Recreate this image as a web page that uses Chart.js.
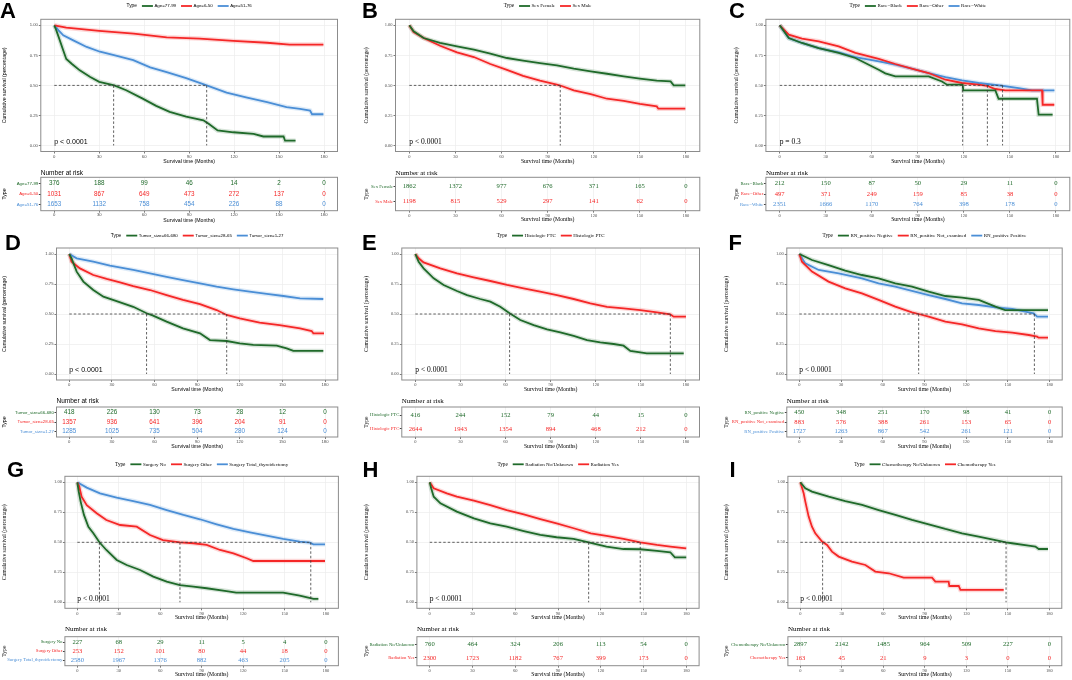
<!DOCTYPE html>
<html>
<head>
<meta charset="utf-8">
<script src="https://cdn.jsdelivr.net/npm/chart.js@4.4.1/dist/chart.umd.min.js"></script>
<style>
html, body { margin: 0; padding: 0; background: #fff; }
#fig { position: relative; width: 1072px; height: 680px; overflow: hidden; background: #fff; }
#fig canvas { position: absolute; }
.tag { position: absolute; font: bold 22px "Liberation Sans", Arial, sans-serif; line-height: 1; color: #000; }
</style>
</head>
<body>
<div id="fig"></div>
<script>
// Axis ticks
const timeTicks = [0, 30, 60, 90, 120, 150, 180];
const survTicks = [0, 0.25, 0.5, 0.75, 1];
const riskTimes = [0, 30, 60, 90, 120, 150, 180];

// A - Age
const ageNames = ['Age=77-99', 'Age=6-50', 'Age=51-76'];
const ageOld = [[0,1],[1,0.97],[3,0.90],[6,0.79],[8,0.72],[11.6,0.68],[17,0.625],[24,0.57],[30,0.53],[40,0.50],[48,0.46],[59,0.39],[68,0.33],[77,0.28],[88,0.24],[99.5,0.21],[103,0.18],[109,0.125],[119.5,0.11],[133,0.097],[139.5,0.075],[153,0.075],[154,0.04],[161,0.04]];
const ageYoung = [[0,1],[8,0.98],[30,0.953],[53,0.93],[75,0.90],[97,0.89],[119.5,0.87],[142,0.855],[157,0.84],[179.6,0.84]];
const ageMid = [[0,1],[2.7,0.96],[6,0.917],[12.7,0.875],[21.6,0.82],[30.5,0.78],[40.5,0.75],[52.7,0.71],[64,0.65],[75,0.61],[88,0.56],[101.7,0.50],[115,0.44],[128,0.40],[142,0.36],[155,0.32],[164,0.305],[170.7,0.29],[172,0.26],[179.6,0.26]];
const mediansA = [39.6, 101.7];
const riskA = [[376,188,99,46,14,2,0],[1031,867,649,473,272,137,0],[1653,1132,758,454,226,88,0]];

// B - Sex
const sexNames = ['Sex Female', 'Sex Male'];
const sexFemale = [[0,1],[2.8,0.95],[9.3,0.894],[20,0.853],[31,0.825],[42,0.797],[52.7,0.764],[63.5,0.728],[74,0.706],[85,0.686],[96,0.667],[107,0.639],[118,0.617],[128.6,0.597],[139.5,0.575],[150,0.556],[161,0.539],[170,0.533],[172,0.50],[179.6,0.50]];
const sexMale = [[0,1],[2.8,0.944],[9.3,0.894],[20,0.83],[31,0.775],[42,0.736],[52.7,0.678],[63.5,0.63],[74,0.58],[85,0.539],[96,0.506],[98.7,0.497],[107,0.458],[118,0.428],[128.6,0.389],[139.5,0.372],[150,0.347],[161,0.325],[162,0.306],[179.6,0.306]];
const mediansB = [98.2];
const riskB = [[1862,1372,977,676,371,165,0],[1198,815,529,297,141,62,0]];

// C - Race
const raceNames = ['Race=Black', 'Race=Other', 'Race=White'];
const raceBlack = [[0,1],[5.9,0.894],[14.5,0.853],[25.4,0.81],[38.4,0.77],[49.3,0.728],[58,0.672],[64.5,0.63],[68.8,0.60],[75.3,0.575],[97,0.575],[105.7,0.533],[109,0.506],[119.2,0.506],[119.6,0.458],[140.5,0.458],[142.6,0.389],[167.6,0.389],[168.7,0.256],[177.8,0.256]];
const raceOther = [[0,1],[5.9,0.922],[14.5,0.889],[25.4,0.867],[38.4,0.825],[49.3,0.77],[64.5,0.72],[75.3,0.678],[86,0.64],[97,0.603],[108,0.547],[118.8,0.52],[129.6,0.506],[135,0.497],[140.5,0.47],[147,0.458],[170.9,0.458],[171.3,0.339],[178.9,0.339]];
const raceWhite = [[0,1],[5.9,0.894],[14.5,0.853],[25.4,0.81],[38.4,0.775],[49.3,0.736],[64.5,0.70],[75.3,0.672],[86,0.64],[97,0.603],[108,0.569],[118.8,0.542],[129.6,0.52],[144.8,0.497],[155.7,0.478],[164.3,0.458],[179,0.458]];
const mediansC = [119.2, 135.3, 145.2];
const riskC = [[212,150,87,50,29,11,0],[497,371,249,159,85,38,0],[2351,1666,1170,764,398,178,0]];

// D - Tumor size
const tumorNames = ['Tumor_size=66-680', 'Tumor_size=28-65', 'Tumor_size=1-27'];
const tumorLarge = [[0,1],[1.6,0.964],[5.2,0.853],[9.9,0.77],[16.9,0.70],[24,0.644],[33.3,0.608],[45,0.56],[54.4,0.506],[59,0.486],[68.5,0.436],[80,0.38],[92,0.339],[99,0.283],[110.8,0.275],[120,0.256],[129.5,0.242],[146,0.236],[153,0.214],[157.7,0.192],[178.8,0.192]];
const tumorMid = [[0,1],[1.6,0.936],[7.5,0.88],[16.9,0.825],[26.3,0.792],[35.7,0.764],[45,0.733],[56.8,0.70],[68.5,0.658],[80,0.617],[92,0.583],[103.7,0.533],[110.8,0.492],[120,0.464],[134,0.428],[148,0.408],[162.4,0.38],[170.6,0.358],[171.8,0.339],[179.3,0.339]];
const tumorSmall = [[0,1],[5.2,0.964],[16.9,0.936],[28.6,0.903],[45,0.867],[56.8,0.839],[68.5,0.81],[80,0.783],[92,0.756],[103.7,0.728],[115.5,0.706],[127,0.686],[139,0.667],[150.7,0.65],[162.4,0.631],[178.8,0.625]];
const mediansD = [54.4, 110.8];
const riskD = [[418,226,130,73,28,12,0],[1357,936,641,396,204,91,0],[1285,1025,735,504,280,124,0]];

// E - Histologic
const histNames = ['Histologic FTC', 'Histologic PTC'];
const histFtc = [[0,1],[2.2,0.936],[5.5,0.88],[12.2,0.797],[18.8,0.742],[27.7,0.692],[34.4,0.658],[43.2,0.625],[49.9,0.603],[56.5,0.56],[62.7,0.506],[69.8,0.45],[78.7,0.408],[87.6,0.372],[96.4,0.347],[105.3,0.317],[114.2,0.283],[123,0.264],[131.9,0.25],[138.5,0.236],[143,0.192],[154,0.172],[178.5,0.172]];
const histPtc = [[0,1],[2.2,0.964],[5.5,0.93],[16.6,0.88],[27.7,0.839],[38.8,0.806],[49.9,0.775],[61,0.742],[72,0.714],[83,0.686],[94.2,0.658],[105.3,0.625],[116.4,0.589],[127.5,0.56],[138.5,0.547],[149.6,0.533],[160.7,0.514],[169.6,0.497],[171.8,0.478],[180,0.478]];
const mediansE = [62.7, 169.6];
const riskE = [[416,244,152,79,44,15,0],[2644,1943,1354,894,468,212,0]];

// F - Regional nodes
const rnNames = ['RN_positive Negtive', 'RN_positive Not_examined', 'RN_positive Positive'];
const rnNeg = [[0,1],[9.1,0.95],[21,0.908],[33,0.861],[45,0.825],[57,0.797],[69,0.756],[81,0.728],[93,0.686],[105,0.65],[117,0.636],[129,0.617],[141,0.561],[148,0.533],[178.8,0.533]];
const rnNot = [[0,1],[1.9,0.936],[9.1,0.853],[21,0.77],[33,0.714],[45,0.672],[57,0.617],[69,0.561],[81,0.514],[85.8,0.50],[93,0.478],[105,0.436],[117,0.414],[129,0.381],[141,0.358],[153,0.344],[165,0.325],[171,0.311],[172,0.303],[178.8,0.303]];
const rnPos = [[0,1],[4.3,0.922],[13.9,0.867],[28.3,0.839],[45,0.797],[57,0.756],[69,0.728],[81,0.692],[93,0.658],[105,0.625],[117,0.589],[129,0.575],[141,0.556],[153,0.542],[165,0.514],[168.5,0.506],[171,0.478],[178.8,0.478]];
const mediansF = [85.8, 169];
const riskF = [[450,348,251,170,98,41,0],[883,576,388,261,153,65,0],[1727,1263,867,542,261,121,0]];

// G - Surgery
const surgNames = ['Surgery No', 'Surgery Other', 'Surgery Total_thyroidectomy'];
const surgNo = [[0,1],[1,0.922],[2.4,0.839],[4.8,0.728],[8,0.63],[11.6,0.575],[16,0.50],[21,0.436],[28.5,0.353],[35.7,0.311],[45.4,0.269],[55,0.214],[64.7,0.172],[74.3,0.144],[84,0.131],[93.6,0.117],[108,0.094],[115,0.081],[149,0.081],[161,0.056],[171,0.028],[174.5,0.028]];
const surgOther = [[0,1],[1.4,0.964],[3.1,0.88],[6.8,0.81],[14,0.742],[21,0.686],[31,0.644],[43,0.63],[52.6,0.561],[62,0.519],[74.3,0.50],[84,0.492],[93.6,0.478],[103.3,0.436],[113,0.408],[122.6,0.367],[127.4,0.344],[179.3,0.344]];
const surgTotal = [[0,1],[6.8,0.956],[16.4,0.908],[28.5,0.872],[40.5,0.844],[52.6,0.811],[64.7,0.769],[76.8,0.728],[88.8,0.692],[100.9,0.65],[113,0.611],[125,0.583],[137,0.556],[149,0.528],[161,0.506],[168.4,0.497],[170.9,0.483],[179.3,0.483]];
const mediansG = [16, 74.3, 169];
const riskG = [[227,68,29,11,5,4,0],[253,152,101,80,44,18,0],[2580,1967,1376,882,463,205,0]];

// H - Radiation
const radNames = ['Radiation No/Unknown', 'Radiation Yes'];
const radNo = [[0,1],[1,0.95],[2.8,0.88],[7.5,0.825],[19,0.756],[31,0.70],[42.5,0.658],[54,0.63],[66,0.594],[77.6,0.561],[89,0.542],[101,0.528],[111.5,0.50],[124,0.464],[136,0.444],[147.7,0.442],[159.4,0.428],[168.8,0.417],[172,0.375],[180,0.375]];
const radYes = [[0,1],[2.8,0.95],[12,0.908],[19,0.88],[31,0.847],[42.5,0.81],[54,0.769],[66,0.733],[77.6,0.694],[89,0.658],[101,0.617],[113,0.575],[124,0.553],[136,0.528],[147.7,0.50],[159.4,0.478],[168.8,0.464],[180,0.45]];
const mediansH = [111.5, 147.7];
const riskH = [[760,464,324,206,113,54,0],[2300,1723,1182,767,399,173,0]];

// I - Chemotherapy
const chemoNames = ['Chemotherapy No/Unknown', 'Chemotherapy Yes'];
const chemoNo = [[0,1],[3.6,0.95],[8.4,0.922],[20.5,0.88],[32.5,0.844],[44.6,0.811],[56.6,0.769],[68.7,0.728],[80.7,0.686],[92.8,0.65],[104.8,0.611],[116.9,0.575],[128.9,0.547],[141,0.519],[148.7,0.50],[153,0.492],[165,0.472],[169.9,0.464],[172.3,0.444],[179,0.444]];
const chemoYes = [[0,1],[2.4,0.908],[3.6,0.839],[6,0.714],[8.4,0.63],[10.8,0.575],[15.7,0.506],[19.3,0.478],[22.9,0.422],[27.7,0.381],[37.3,0.339],[47,0.311],[54.2,0.256],[63.9,0.242],[74.7,0.206],[95.2,0.206],[97.6,0.172],[107.2,0.172],[107.7,0.136],[114.5,0.136],[115.7,0.103],[147,0.103]];
const mediansI = [16.1, 148.7];
const riskI = [[2897,2142,1485,964,509,227,0],[163,45,21,9,3,0,0]];

const pValues = ['p < 0.0001', 'p < 0.0001', 'p = 0.3', 'p < 0.0001', 'p < 0.0001', 'p < 0.0001', 'p < 0.0001', 'p < 0.0001', 'p < 0.0001'];

const panels = [
    { tag: 'A', style: 'sans',  names: ageNames,   curves: [ageOld, ageYoung, ageMid],        medians: mediansA, risk: riskA },
    { tag: 'B', style: 'serif', names: sexNames,   curves: [sexFemale, sexMale],              medians: mediansB, risk: riskB },
    { tag: 'C', style: 'serif', names: raceNames,  curves: [raceBlack, raceOther, raceWhite], medians: mediansC, risk: riskC },
    { tag: 'D', style: 'sans',  names: tumorNames, curves: [tumorLarge, tumorMid, tumorSmall], medians: mediansD, risk: riskD },
    { tag: 'E', style: 'serif', names: histNames,  curves: [histFtc, histPtc],                medians: mediansE, risk: riskE },
    { tag: 'F', style: 'serif', names: rnNames,    curves: [rnNeg, rnNot, rnPos],             medians: mediansF, risk: riskF },
    { tag: 'G', style: 'serif', names: surgNames,  curves: [surgNo, surgOther, surgTotal],    medians: mediansG, risk: riskG },
    { tag: 'H', style: 'serif', names: radNames,   curves: [radNo, radYes],                   medians: mediansH, risk: riskH },
    { tag: 'I', style: 'serif', names: chemoNames, curves: [chemoNo, chemoYes],               medians: mediansI, risk: riskI }
];

// Layout (pixels in the 1072x680 figure)
const colLeft = [0, 357, 714];
const colWidth = [357, 357, 358];
const rows = [
    { kmTop: 0,   legendY: 6,     boxTop: 19.3,  boxBottom: 151.5, riskTitleY: 173, riskTop: 177.3, riskBottom: 210.7, riskAxisH: 12.5 },
    { kmTop: 226, legendY: 235.6, boxTop: 248,   boxBottom: 380,   riskTitleY: 401, riskTop: 407,   riskBottom: 437,   riskAxisH: 12.5 },
    { kmTop: 455, legendY: 464.3, boxTop: 476.3, boxBottom: 608.3, riskTitleY: 629, riskTop: 636.7, riskBottom: 665.7, riskAxisH: 12.5 }
];
// [plot left, plot right, y-title centre x]
const boxes = [
    [40.8, 337.5, 5], [395.5, 699.8, 367], [765.9, 1069.8, 737],
    [56.5, 337.8, 5], [401.8, 699.5, 367], [786.8, 1062.2, 727],
    [64.9, 338.4, 5], [416.9, 699.1, 367], [787.9, 1061.8, 727]
];
const tagPos = [[0, 0], [362, 0], [729, 0], [5, 232], [362, 232], [728.5, 232], [7, 459], [362.5, 459], [729.5, 459]];

const fontSets = {
    sans:  { family: '"Liberation Sans", Arial, sans-serif', tick: 4.2, axis: 5.2, legend: 4.4, legendType: 4.8, p: 7, riskTitle: 6.5, riskNum: 6.3, riskLabel: 4.4 },
    serif: { family: '"Liberation Serif", "Times New Roman", serif', tick: 4.5, axis: 5.7, legend: 5.0, legendType: 5.2, p: 7.5, riskTitle: 7, riskNum: 6.6, riskLabel: 4.7 }
};

const green = '#1F6A2A', red = '#F52727', blue = '#4A8ED6';
const borderGrey = '#8c8c8c', gridGrey = '#ececec';

function withAlpha(hex, a) {
    const n = parseInt(hex.slice(1), 16);
    return `rgba(${n >> 16}, ${(n >> 8) & 255}, ${n & 255}, ${a})`;
}

function makeCanvas(left, top, width, height) {
    const c = document.createElement('canvas');
    c.width = width; c.height = height;
    c.style.left = left + 'px'; c.style.top = top + 'px';
    c.style.width = width + 'px'; c.style.height = height + 'px';
    document.getElementById('fig').appendChild(c);
    return c;
}

function groupColors(n) {
    return n === 2 ? [green, red] : [green, red, blue];
}

// Border, legend and p value for the survival plots
const kmDecor = {
    id: 'kmDecor',
    afterDatasetsDraw(chart, args, opts) {
        const p = panels[opts.idx];
        const f = fontSets[p.style];
        const { ctx, chartArea: a, scales } = chart;
        ctx.save();
        ctx.strokeStyle = borderGrey;
        ctx.lineWidth = 1;
        ctx.strokeRect(a.left, a.top, a.right - a.left, a.bottom - a.top);

        ctx.fillStyle = '#000';
        ctx.textAlign = 'left';
        ctx.textBaseline = 'alphabetic';
        ctx.font = `${f.p}px ${f.family}`;
        ctx.fillText(pValues[opts.idx], scales.x.getPixelForValue(0), scales.y.getPixelForValue(0.015));

        // legend: "Type" then a short line + label per group
        const curves = chart.data.datasets.filter(d => d.role === 'curve');
        ctx.textBaseline = 'middle';
        ctx.font = `${f.legendType}px ${f.family}`;
        const typeW = ctx.measureText('Type').width;
        ctx.font = `${f.legend}px ${f.family}`;
        const widths = curves.map(d => ctx.measureText(d.label).width);
        const lineLen = 11, gapIn = 1.5, gapOut = 5, gapType = 5;
        const total = typeW + gapType + widths.reduce((s, w) => s + lineLen + gapIn + w, 0) + gapOut * (curves.length - 1);
        let x = (a.left + a.right) / 2 - total / 2;
        const y = opts.legendY;
        ctx.font = `${f.legendType}px ${f.family}`;
        ctx.fillText('Type', x, y);
        x += typeW + gapType;
        ctx.font = `${f.legend}px ${f.family}`;
        curves.forEach((d, k) => {
            ctx.strokeStyle = d.borderColor;
            ctx.lineWidth = 1.8;
            ctx.beginPath();
            ctx.moveTo(x, y);
            ctx.lineTo(x + lineLen, y);
            ctx.stroke();
            x += lineLen + gapIn;
            ctx.fillStyle = '#000';
            ctx.fillText(d.label, x, y);
            x += widths[k] + gapOut;
        });
        ctx.restore();
    }
};

// Numbers, border and title for the risk tables
const riskDecor = {
    id: 'riskDecor',
    afterDatasetsDraw(chart, args, opts) {
        const p = panels[opts.idx];
        const f = fontSets[p.style];
        const { ctx, chartArea: a } = chart;
        ctx.save();
        ctx.textAlign = 'center';
        ctx.textBaseline = 'middle';
        ctx.font = `${f.riskNum}px ${f.family}`;
        chart.data.datasets.forEach((ds, r) => {
            const meta = chart.getDatasetMeta(r);
            ctx.fillStyle = ds.textColor;
            meta.data.forEach((pt, i) => ctx.fillText(String(ds.counts[i]), pt.x, pt.y));
        });
        ctx.strokeStyle = borderGrey;
        ctx.lineWidth = 1;
        ctx.strokeRect(a.left, a.top, a.right - a.left, a.bottom - a.top);
        ctx.fillStyle = '#000';
        ctx.textAlign = 'left';
        ctx.font = `${f.riskTitle}px ${f.family}`;
        ctx.fillText('Number at risk', a.left, opts.titleY);
        ctx.restore();
    }
};

function xScale(f, axisH, tickPad) {
    return {
        type: 'linear', min: -9, max: 189,
        afterBuildTicks: s => { s.ticks = timeTicks.map(v => ({ value: v })); },
        afterFit: s => { s.height = axisH; },
        ticks: { font: { family: f.family, size: f.tick }, color: '#4d4d4d', padding: tickPad, maxRotation: 0, minRotation: 0, autoSkip: false, callback: v => String(v) },
        grid: { color: gridGrey, lineWidth: 0.7, tickLength: 2, tickColor: '#444' },
        border: { display: false },
        title: { display: true, text: 'Survival time (Months)', color: '#000', font: { family: f.family, size: f.axis }, padding: 0 }
    };
}

function buildKm(i) {
    const p = panels[i], g = rows[Math.floor(i / 3)], b = boxes[i];
    const col = i % 3, left = colLeft[col], width = colWidth[col];
    const f = fontSets[p.style];
    const xh = 13;
    const top = g.kmTop;
    const height = Math.ceil(g.boxBottom - top + xh);
    const padLeft = b[2] - left - f.axis * 1.2 / 2;
    const canvas = makeCanvas(left, top, width, height);
    const colors = groupColors(p.curves.length);
    const line = { showLine: true, pointRadius: 0, pointHoverRadius: 0, fill: false, tension: 0 };
    const datasets = [];
    p.curves.forEach((c, k) => {
        const pts = c.map(([x, y]) => ({ x, y }));
        datasets.push({ ...line, data: pts, borderColor: withAlpha(colors[k], 0.18), borderWidth: 4.5, order: 3 });
        datasets.push({ ...line, role: 'curve', label: p.names[k], data: pts, borderColor: colors[k], borderWidth: 1.8, order: 1 });
    });
    const dash = { ...line, borderColor: '#3a3a3a', borderWidth: 0.8, borderDash: [2.5, 2], order: 0 };
    datasets.push({ ...dash, data: [{ x: 0, y: 0.5 }, { x: Math.max(...p.medians), y: 0.5 }] });
    p.medians.forEach(m => datasets.push({ ...dash, data: [{ x: m, y: 0.5 }, { x: m, y: 0 }] }));

    new Chart(canvas, {
        type: 'scatter',
        data: { datasets },
        options: {
            responsive: false, animation: false, events: [],
            layout: { padding: { left: padLeft, right: left + width - b[1], top: g.boxTop - top, bottom: height - (g.boxBottom - top + xh) } },
            plugins: { legend: { display: false }, tooltip: { enabled: false }, kmDecor: { idx: i, legendY: g.legendY - top } },
            scales: {
                x: xScale(f, xh, 0.5),
                y: {
                    type: 'linear', min: -0.05, max: 1.05,
                    afterBuildTicks: s => { s.ticks = survTicks.map(v => ({ value: v })); },
                    afterFit: s => { s.width = b[0] - left - padLeft; },
                    ticks: { font: { family: f.family, size: f.tick }, color: '#4d4d4d', padding: 1, callback: v => v.toFixed(2) },
                    grid: { color: gridGrey, lineWidth: 0.7, tickLength: 2, tickColor: '#444' },
                    border: { display: false },
                    title: { display: true, text: 'Cumulative survival (percentage)', color: '#000', font: { family: f.family, size: f.axis }, padding: 0 }
                }
            }
        },
        plugins: [kmDecor]
    });
}

function buildRisk(i) {
    const p = panels[i], g = rows[Math.floor(i / 3)], b = boxes[i];
    const col = i % 3, left = colLeft[col], width = colWidth[col];
    const f = fontSets[p.style];
    const xh = g.riskAxisH;
    const top = g.riskTitleY - 6;
    const height = Math.ceil(g.riskBottom - top + xh);
    const padLeft = b[2] - left - f.axis * 1.2 / 2;
    const canvas = makeCanvas(left, top, width, height);
    const colors = groupColors(p.risk.length);
    const n = p.risk.length;
    const datasets = p.risk.map((counts, r) => ({
        data: riskTimes.map(t => ({ x: t, y: r + 1 })),
        counts, textColor: colors[r], pointRadius: 0, pointHoverRadius: 0
    }));

    new Chart(canvas, {
        type: 'scatter',
        data: { datasets },
        options: {
            responsive: false, animation: false, events: [],
            layout: { padding: { left: padLeft, right: left + width - b[1], top: g.riskTop - top, bottom: height - (g.riskBottom - top + xh) } },
            plugins: { legend: { display: false }, tooltip: { enabled: false }, riskDecor: { idx: i, titleY: g.riskTitleY - top } },
            scales: {
                x: xScale(f, xh, 0),
                y: {
                    type: 'linear', reverse: true, min: 0.4, max: n + 0.6,
                    afterBuildTicks: s => { s.ticks = p.names.map((_, r) => ({ value: r + 1 })); },
                    afterFit: s => { s.width = b[0] - left - padLeft; },
                    ticks: { font: { family: f.family, size: f.riskLabel }, color: ctx => colors[ctx.index], padding: 0.5, autoSkip: false, callback: v => p.names[v - 1] },
                    grid: { drawOnChartArea: false, tickLength: 2, tickColor: '#444' },
                    border: { display: false },
                    title: { display: true, text: 'Type', color: '#000', font: { family: f.family, size: f.axis }, padding: 0 }
                }
            }
        },
        plugins: [riskDecor]
    });
}

panels.forEach((p, i) => {
    buildKm(i);
    buildRisk(i);
    const t = document.createElement('div');
    t.className = 'tag';
    t.textContent = p.tag;
    t.style.left = tagPos[i][0] + 'px';
    t.style.top = tagPos[i][1] + 'px';
    document.getElementById('fig').appendChild(t);
});
</script>
</body>
</html>
